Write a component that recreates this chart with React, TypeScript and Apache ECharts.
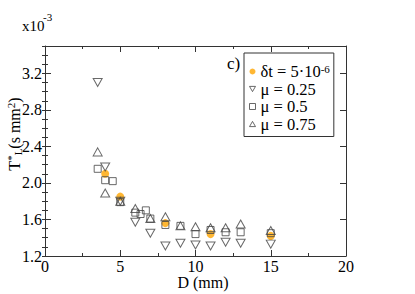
import React, { useEffect, useRef } from 'react';
import * as echarts from 'echarts';

const dOrange = [4, 5, 8, 11, 15];
const tOrange = [2.1, 1.85, 1.56, 1.44, 1.42];
const d025 = [3.5, 4, 5, 6, 7, 8, 9, 10, 11, 12, 13, 15];
const t025 = [3.1, 2.175, 1.8, 1.57, 1.45, 1.31, 1.34, 1.32, 1.31, 1.35, 1.34, 1.33];
const d05 = [3.5, 4, 4.5, 5, 6, 6.35, 6.7, 7, 8, 9, 10, 11, 12, 13, 15];
const t05 = [2.155, 2.03, 2.02, 1.79, 1.675, 1.66, 1.7, 1.61, 1.54, 1.53, 1.44, 1.485, 1.46, 1.46, 1.45];
const d075 = [3.5, 4, 5, 6, 7, 8, 9, 10, 11, 12, 13, 15];
const t075 = [2.34, 1.89, 1.8, 1.72, 1.61, 1.63, 1.53, 1.52, 1.51, 1.51, 1.55, 1.48];

const seriesNames = ['δt = 5·10-6', 'μ = 0.25', 'μ = 0.5', 'μ = 0.75'];
const yMajorStep = 0.4;

const FONT = "'Liberation Serif', 'Times New Roman', serif";
const LINE = '#333';
const MARK = '#444';
const DOWN_TRI = 'path://M0,0L10,0L5,8.66Z';
const UP_TRI = 'path://M5,0L10,8.66L0,8.66Z';

const zip = (xs: number[], ys: number[]) => xs.map((x, i) => [x, ys[i]]);

export default function App() {
  const ref = useRef<HTMLDivElement>(null);
  useEffect(() => {
    document.body.style.margin = '0';
    const chart = echarts.init(ref.current!, null, { renderer: 'svg' });
    const baseX = {
      type: 'value' as const,
      min: 0,
      max: 20,
      interval: 5,
      axisLine: { show: true, onZero: false, lineStyle: { color: LINE, width: 1 } },
      axisTick: { show: true, inside: true, length: 6, lineStyle: { color: LINE } },
      minorTick: { show: true, splitNumber: 2, length: 3, lineStyle: { color: LINE } },
      splitLine: { show: false },
      minorSplitLine: { show: false },
    };
    const baseY = {
      type: 'value' as const,
      min: 1.2,
      max: 3.5,
      interval: yMajorStep,
      axisLine: { show: true, onZero: false, lineStyle: { color: LINE, width: 1 } },
      axisTick: { show: true, inside: true, length: 6, lineStyle: { color: LINE } },
      splitLine: { show: false },
    };
    const minorY = {
      type: 'value' as const,
      min: 1.2,
      max: 3.5,
      interval: 0.1,
      axisLine: { show: false },
      axisTick: { show: true, inside: true, length: 3, lineStyle: { color: LINE } },
      axisLabel: { show: false },
      splitLine: { show: false },
    };
    const emptyStyle = { color: 'rgba(255,255,255,0)', borderColor: MARK, borderWidth: 1 };
    const legendEmpty = { color: '#fff', borderColor: MARK, borderWidth: 1 };
    chart.setOption({
      animation: false,
      textStyle: { fontFamily: FONT },
      grid: { left: 45, right: 69, top: 46, bottom: 38 },
      xAxis: [
        {
          ...baseX,
          position: 'bottom',
          axisLabel: { show: true, margin: 4, fontFamily: FONT, fontSize: 16, lineHeight: 13, color: '#000' },
        },
        { ...baseX, position: 'top', axisLabel: { show: false } },
      ],
      yAxis: [
        {
          ...baseY,
          position: 'left',
          axisLabel: {
            show: true,
            margin: 3,
            fontFamily: FONT,
            fontSize: 16,
            color: '#000',
            showMaxLabel: false,
            formatter: (v: number) => {
              const k = (v - 1.2) / yMajorStep;
              return Math.abs(k - Math.round(k)) < 1e-6 ? v.toFixed(1) : '';
            },
          },
        },
        { ...baseY, position: 'right', axisLabel: { show: false } },
        { ...minorY, position: 'left' },
        { ...minorY, position: 'right' },
      ],
      legend: {
        orient: 'vertical',
        left: 244,
        top: 53,
        padding: [10, 4, 4, 5],
        itemGap: 0.5,
        itemWidth: 6,
        itemHeight: 6,
        itemTextGap: 5,
        borderColor: LINE,
        borderWidth: 1,
        backgroundColor: '#fff',
        data: [
          { name: seriesNames[0], icon: 'circle', itemStyle: { color: '#FFA500', borderWidth: 0 } },
          { name: seriesNames[1], icon: DOWN_TRI, itemStyle: legendEmpty },
          { name: seriesNames[2], icon: 'rect', itemStyle: legendEmpty },
          { name: seriesNames[3], icon: UP_TRI, itemStyle: legendEmpty },
        ],
        textStyle: {
          fontFamily: FONT,
          fontSize: 16.5,
          color: '#000',
          lineHeight: 17,
          rich: {
            n: { fontFamily: FONT, fontSize: 16.5, lineHeight: 17, color: '#000' },
            sup: { fontFamily: FONT, fontSize: 11, lineHeight: 11, verticalAlign: 'top', color: '#000' },
          },
        },
        formatter: (name: string) =>
          name === seriesNames[0] ? '{n|δt = 5·10}{sup|-6}' : name,
      },
      series: [
        {
          name: seriesNames[0],
          type: 'scatter',
          symbol: 'circle',
          symbolSize: 8,
          itemStyle: { color: '#FFA500' },
          data: zip(dOrange, tOrange),
        },
        {
          name: seriesNames[1],
          type: 'scatter',
          symbol: DOWN_TRI,
          symbolSize: [9, 8],
          itemStyle: emptyStyle,
          data: zip(d025, t025),
        },
        {
          name: seriesNames[2],
          type: 'scatter',
          symbol: 'rect',
          symbolSize: 7,
          itemStyle: emptyStyle,
          data: zip(d05, t05),
        },
        {
          name: seriesNames[3],
          type: 'scatter',
          symbol: UP_TRI,
          symbolSize: [9, 8],
          itemStyle: emptyStyle,
          data: zip(d075, t075),
        },
      ],
      graphic: [
        {
          type: 'text',
          left: 22,
          top: 18,
          style: { text: 'x10', fontFamily: FONT, fontSize: 15, fill: '#000' },
        },
        {
          type: 'text',
          left: 43,
          top: 11,
          style: { text: '-3', fontFamily: FONT, fontSize: 11, fill: '#000' },
        },
        {
          type: 'text',
          left: 227,
          top: 55,
          style: { text: 'c)', fontFamily: FONT, fontSize: 17, fill: '#000' },
        },
        {
          type: 'text',
          x: 203,
          y: 282,
          style: {
            text: 'D (mm)',
            fontFamily: FONT,
            fontSize: 16,
            lineHeight: 13,
            fill: '#000',
            align: 'center',
            verticalAlign: 'middle',
          },
        },
        {
          type: 'text',
          x: 14,
          y: 134,
          rotation: Math.PI / 2,
          style: {
            text: '{t|T}{s|*}{l|L}{t|(s mm}{s|2}{t|)}',
            align: 'center',
            verticalAlign: 'middle',
            fill: '#000',
            rich: {
              t: { fontFamily: FONT, fontSize: 16, lineHeight: 18, verticalAlign: 'middle' },
              s: { fontFamily: FONT, fontSize: 11, lineHeight: 11, verticalAlign: 'top' },
              l: { fontFamily: FONT, fontSize: 11, lineHeight: 11, verticalAlign: 'bottom' },
            },
          },
        },
      ],
    });
    return () => chart.dispose();
  }, []);
  return <div ref={ref} style={{ width: 415, height: 294 }} />;
}
